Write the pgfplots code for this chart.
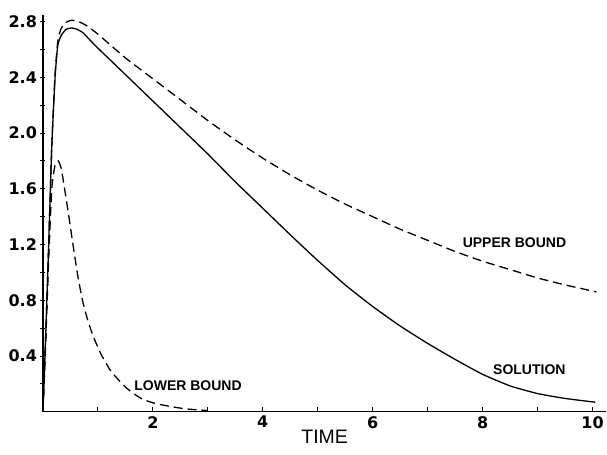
\documentclass[border=0pt]{standalone}
\usepackage{pgfplots}
\pgfplotsset{compat=1.18}
\usepackage{fontspec}
\setmainfont{Liberation Sans}
\newfontfamily\tickfont{DejaVu Sans}
\begin{document}
\begin{tikzpicture}[x=1pt,y=1pt]
\begin{axis}[
  at={(0,0)}, anchor=south west,
  scale only axis, width=563.75pt, height=397.3pt,
  xmin=0, xmax=10.25, ymin=0, ymax=2.85,
  axis x line=bottom, axis y line=left,
  axis line style={-, line width=1.4pt},
  xtick={2,4,6,8,10}, minor xtick={1,3,5,7,9},
  ytick={0.4,0.8,1.2,1.6,2.0,2.4,2.8},
  yticklabels={0.4,0.8,1.2,1.6,2.0,2.4,2.8},
  minor ytick={0.2,0.6,1.0,1.4,1.8,2.2,2.6},
  major tick length=5pt, minor tick length=5pt,
  tick style={line width=0.9pt, black},
  xtick align=inside, ytick align=center,
  /pgf/number format/assume math mode=true,
  tick label style={font=\tickfont\fontsize{16}{18}\selectfont\bfseries},
  xticklabel style={yshift=-1pt},
  yticklabel style={xshift=0pt},
  xlabel={TIME},
  xlabel style={font=\fontsize{19.5}{21}\selectfont, yshift=5pt},
  clip=false,
]
% solution
\addplot[black, line width=1.3pt, smooth, tension=0.3] coordinates {
(0,0) (0.05,0.55) (0.1,1.15) (0.16,1.9) (0.22,2.40) (0.27,2.63) (0.33,2.70) (0.42,2.745) (0.52,2.755) (0.62,2.745) (0.73,2.72) (0.85,2.67) (1.0,2.61) (1.5,2.42) (2.0,2.23) (2.5,2.04) (3.0,1.85) (3.5,1.65) (4.0,1.46) (4.5,1.27) (5.0,1.085) (5.5,0.91) (6.0,0.755) (6.5,0.615) (7.0,0.49) (7.5,0.375) (8.0,0.268) (8.5,0.185) (9.0,0.13) (9.5,0.095) (10.05,0.068)
};
% upper bound
\addplot[black, line width=1.3pt, dash pattern=on 9pt off 5pt, smooth, tension=0.3] coordinates {
(0,0) (0.05,0.55) (0.1,1.15) (0.16,1.9) (0.22,2.42) (0.27,2.66) (0.33,2.75) (0.42,2.795) (0.52,2.81) (0.65,2.80) (0.8,2.77) (1.0,2.71) (1.5,2.54) (2.0,2.39) (2.5,2.24) (3.0,2.09) (3.5,1.95) (4.0,1.82) (4.5,1.70) (5.0,1.59) (5.5,1.49) (6.0,1.40) (6.5,1.31) (7.0,1.23) (7.5,1.15) (8.0,1.08) (8.5,1.02) (9.0,0.96) (9.5,0.91) (10.07,0.86)
};
% lower bound
\addplot[black, line width=1.3pt, dash pattern=on 9pt off 5pt, smooth, tension=0.3] coordinates {
(0,0) (0.05,0.5) (0.1,1.05) (0.16,1.6) (0.22,1.77) (0.28,1.80) (0.33,1.75) (0.37,1.66) (0.46,1.43) (0.55,1.19) (0.64,0.96) (0.73,0.78) (0.82,0.65) (0.915,0.54) (1.06,0.41) (1.22,0.30) (1.37,0.23) (1.52,0.17) (1.67,0.125) (1.82,0.088) (2.05,0.058) (2.31,0.038) (2.6,0.02) (3.0,0.008)
};
\node[font=\fontsize{14}{16}\selectfont\bfseries] at (axis cs:8.58,1.21) {UPPER BOUND};
\node[font=\fontsize{14}{16}\selectfont\bfseries] at (axis cs:8.85,0.30) {SOLUTION};
\node[font=\fontsize{14}{16}\selectfont\bfseries] at (axis cs:2.64,0.19) {LOWER BOUND};
\end{axis}
\path[use as bounding box] (-43pt,-43pt) rectangle (564pt,412pt);
\end{tikzpicture}
\end{document}
